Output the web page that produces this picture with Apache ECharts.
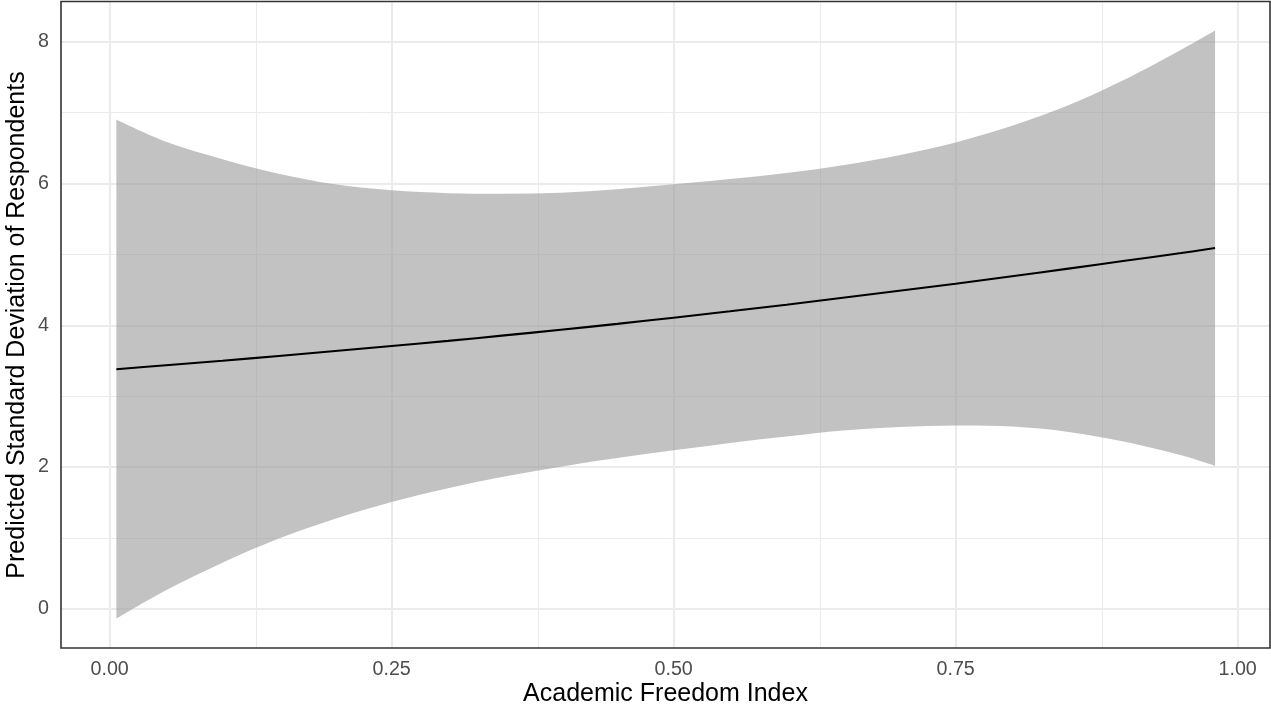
<!DOCTYPE html>
<html>
<head>
<meta charset="utf-8">
<script src="https://cdn.jsdelivr.net/npm/echarts@6/dist/echarts.min.js"></script>
<style>
  html, body { margin: 0; padding: 0; background: #ffffff; }
  #chart { width: 1271px; height: 707px; }
</style>
</head>
<body>
<div id="chart"></div>
<script>
// Academic Freedom Index (x) and the model's predicted SD with its confidence band
const afi = [0.006, 0.05, 0.1, 0.15, 0.2, 0.25, 0.3, 0.35, 0.4, 0.45, 0.5,
             0.55, 0.6, 0.65, 0.7, 0.75, 0.8, 0.85, 0.9, 0.95, 0.98];
const fit = [3.38, 3.436, 3.50, 3.567, 3.637, 3.708, 3.78, 3.857, 3.937, 4.02, 4.107,
             4.197, 4.29, 4.388, 4.488, 4.586, 4.692, 4.80, 4.91, 5.02, 5.09];
const lower = [-0.14, 0.26, 0.65, 0.99, 1.27, 1.505, 1.70, 1.865, 2.005, 2.125, 2.235,
               2.34, 2.43, 2.515, 2.565, 2.585, 2.57, 2.495, 2.355, 2.165, 2.015];
const upper = [6.90, 6.59, 6.345, 6.14, 5.99, 5.905, 5.865, 5.855, 5.87, 5.92, 5.99,
               6.065, 6.15, 6.26, 6.40, 6.58, 6.815, 7.105, 7.47, 7.89, 8.16];

// Axis breaks and labels
const xTicks = [0, 0.25, 0.5, 0.75, 1];
const xMinor = [0.125, 0.375, 0.625, 0.875];
const yTicks = [0, 2, 4, 6, 8];
const yMinor = [1, 3, 5, 7];
const xTickLabels = ['0.00', '0.25', '0.50', '0.75', '1.00'];
const yTickLabels = ['0', '2', '4', '6', '8'];

const xTitle = 'Academic Freedom Index';
const yTitle = 'Predicted Standard Deviation of Respondents';

// Plot limits: data range padded by 5% on each side
const XMIN = -0.0431, XMAX = 1.0287;
const YMIN = -0.555, YMAX = 8.57;

const FONT = "'Liberation Sans', Arial, sans-serif";
const GRID = '#ebebeb';
const BAND = 'rgba(153,153,153,0.6)';
const TITLE_FONT = '25px ' + FONT;

const gridLines = [];
xTicks.forEach(v => gridLines.push({ xAxis: v, lineStyle: { color: GRID, width: 2, type: 'solid' } }));
xMinor.forEach(v => gridLines.push({ xAxis: v, lineStyle: { color: GRID, width: 1, type: 'solid' } }));
yTicks.forEach(v => gridLines.push({ yAxis: v, lineStyle: { color: GRID, width: 2, type: 'solid' } }));
yMinor.forEach(v => gridLines.push({ yAxis: v, lineStyle: { color: GRID, width: 1, type: 'solid' } }));

// Catmull-Rom spline through pixel points, as SVG cubic segments
function splineSegments(pts) {
  let d = '';
  for (let i = 0; i < pts.length - 1; i++) {
    const p0 = pts[Math.max(i - 1, 0)];
    const p1 = pts[i];
    const p2 = pts[i + 1];
    const p3 = pts[Math.min(i + 2, pts.length - 1)];
    const c1 = [p1[0] + (p2[0] - p0[0]) / 6, p1[1] + (p2[1] - p0[1]) / 6];
    const c2 = [p2[0] - (p3[0] - p1[0]) / 6, p2[1] - (p3[1] - p1[1]) / 6];
    d += ' C' + c1[0] + ',' + c1[1] + ' ' + c2[0] + ',' + c2[1] + ' ' + p2[0] + ',' + p2[1];
  }
  return d;
}

const chart = echarts.init(document.getElementById('chart'), null, { renderer: 'canvas' });

chart.setOption({
  animation: false,
  backgroundColor: '#ffffff',
  textStyle: { fontFamily: FONT },
  grid: {
    left: 61, right: 1, top: 1.5, bottom: 59,
    containLabel: false,
    outerBoundsMode: 'none',
    show: true, borderColor: '#333333', borderWidth: 1.6, backgroundColor: 'transparent',
    z: 10
  },
  // axis titles
  graphic: [
    {
      type: 'text', x: 665.5, y: 694.5, silent: true,
      style: { text: xTitle, font: TITLE_FONT, fill: '#000000', align: 'center', verticalAlign: 'middle' }
    },
    {
      type: 'text', x: 17.5, y: 325, rotation: Math.PI / 2, silent: true,
      style: { text: yTitle, font: TITLE_FONT, fill: '#000000', align: 'center', verticalAlign: 'middle' }
    }
  ],
  xAxis: {
    type: 'value',
    min: XMIN, max: XMAX,
    axisLine: { show: false },
    splitLine: { show: false },
    axisTick: { show: true, length: 5.5, customValues: xTicks, lineStyle: { color: '#333333', width: 1.6 } },
    axisLabel: {
      show: true, customValues: xTicks, margin: 12,
      color: '#4d4d4d', fontSize: 19.7, fontFamily: FONT,
      formatter: v => xTickLabels[xTicks.indexOf(v)] ?? v.toFixed(2)
    }
  },
  yAxis: {
    type: 'value',
    min: YMIN, max: YMAX,
    axisLine: { show: false },
    splitLine: { show: false },
    axisTick: { show: true, length: 5.5, customValues: yTicks, lineStyle: { color: '#333333', width: 1.6 } },
    axisLabel: {
      show: true, customValues: yTicks, margin: 12,
      color: '#4d4d4d', fontSize: 19.7, fontFamily: FONT,
      formatter: v => yTickLabels[yTicks.indexOf(v)] ?? String(v)
    }
  },
  series: [
    {
      // panel grid lines
      type: 'line',
      data: [],
      z: 1,
      silent: true,
      markLine: {
        silent: true,
        z: 1,
        symbol: ['none', 'none'],
        label: { show: false },
        emphasis: { disabled: true },
        data: gridLines
      }
    },
    {
      // confidence band: upper edge left to right, lower edge back
      type: 'custom',
      z: 2,
      silent: true,
      clip: true,
      data: afi.map((x, i) => [x, lower[i], upper[i]]),
      renderItem: function (params, api) {
        if (params.dataIndex !== 0) return null;
        const up = afi.map((x, i) => api.coord([x, upper[i]]));
        const lo = afi.map((x, i) => api.coord([x, lower[i]])).reverse();
        let d = 'M' + up[0][0] + ',' + up[0][1] + splineSegments(up);
        d += ' L' + lo[0][0] + ',' + lo[0][1] + splineSegments(lo) + ' Z';
        return {
          type: 'path',
          shape: { pathData: d },
          style: { fill: BAND, stroke: null }
        };
      }
    },
    {
      // fitted curve
      type: 'line',
      z: 3,
      silent: true,
      data: afi.map((x, i) => [x, fit[i]]),
      showSymbol: false,
      smooth: 0.4,
      lineStyle: { color: '#000000', width: 2.1 }
    }
  ]
});
</script>
</body>
</html>
